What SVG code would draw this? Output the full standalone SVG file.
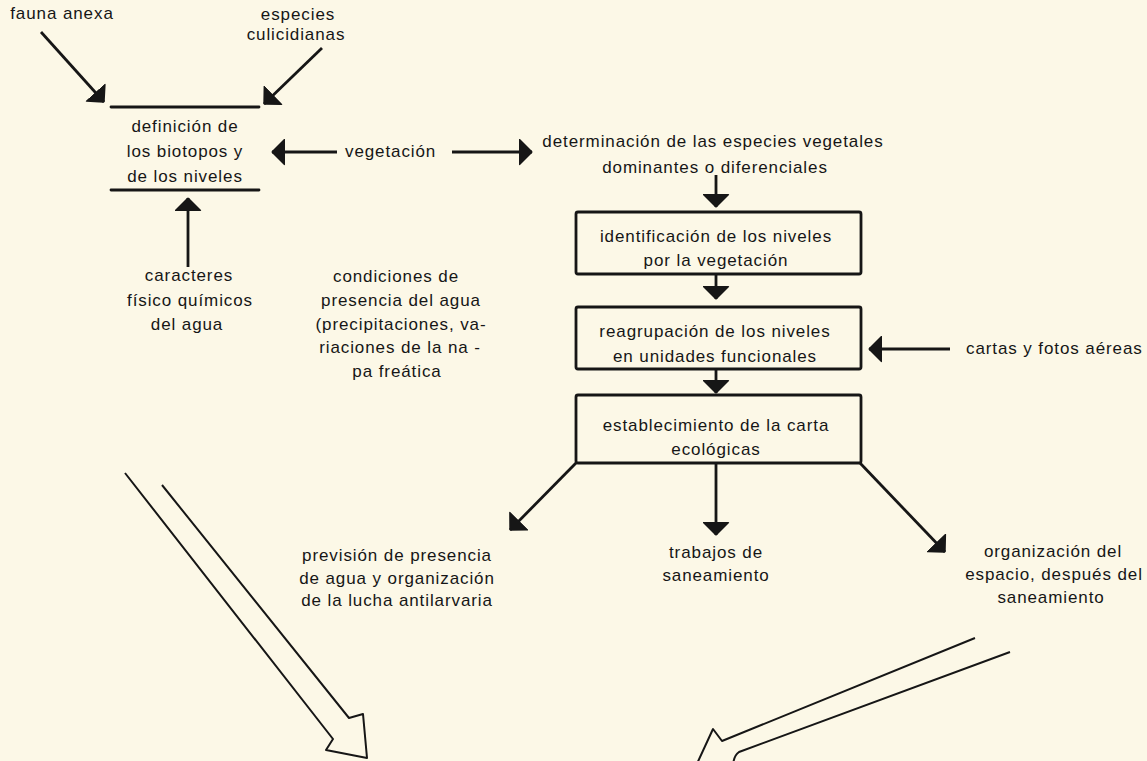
<svg xmlns="http://www.w3.org/2000/svg" width="1147" height="761" viewBox="0 0 1147 761">
<style>
  .t { font-family: "Liberation Sans", Arial, sans-serif; font-size: 17px; letter-spacing: 0.9px; fill: #161616; text-anchor: middle; }
  .ts { text-anchor: start; }
  .ln { stroke: #161616; stroke-width: 2.8; fill: none; stroke-linecap: round; }
  .box { stroke: #161616; stroke-width: 2.8; fill: none; }
  .ar { stroke: #161616; stroke-width: 2.8; fill: none; marker-end: url(#ah); }
  .hol { stroke: #161616; stroke-width: 2; fill: none; stroke-linejoin: round; }
</style>
<defs>
  <marker id="ah" markerUnits="userSpaceOnUse" markerWidth="14" markerHeight="27" refX="13" refY="13.5" orient="auto" viewBox="0 0 14 27">
    <path d="M0,1 Q0,0 1,0.5 L13,12.5 Q14,13.5 13,14.5 L1,26.5 Q0,27 0,26 Z" fill="#161616"/>
  </marker>
</defs>
<rect width="1147" height="761" fill="#fcf8e7"/>

<g id="fauna-anexa"><text class="t" x="62" y="19">fauna anexa</text></g>
<g id="especies-culicidianas">
  <text class="t" x="298" y="20">especies</text>
  <text class="t" x="296" y="40">culicidianas</text>
</g>
<g id="definicion-biotopos">
  <line class="ln" x1="111" y1="107" x2="259" y2="107"/>
  <text class="t" x="185" y="132">definición de</text>
  <text class="t" x="185" y="157">los biotopos y</text>
  <text class="t" x="185" y="182">de los niveles</text>
  <line class="ln" x1="111" y1="190" x2="259" y2="190"/>
</g>
<g id="vegetacion"><text class="t ts" x="345" y="157">vegetación</text></g>
<g id="determinacion">
  <text class="t" x="713" y="147">determinación de las especies vegetales</text>
  <text class="t" x="715" y="173">dominantes o diferenciales</text>
</g>
<g id="identificacion">
  <rect class="box" x="576" y="212" width="285" height="62" rx="2"/>
  <text class="t" x="716" y="242">identificación de los niveles</text>
  <text class="t" x="716" y="266">por la vegetación</text>
</g>
<g id="reagrupacion">
  <rect class="box" x="576" y="307" width="285" height="62" rx="2"/>
  <text class="t" x="715" y="337">reagrupación de los niveles</text>
  <text class="t" x="715" y="362">en unidades funcionales</text>
</g>
<g id="cartas-fotos"><text class="t ts" x="966" y="354">cartas y fotos aéreas</text></g>
<g id="establecimiento">
  <rect class="box" x="576" y="395" width="285" height="68" rx="2"/>
  <text class="t" x="716" y="431">establecimiento de la carta</text>
  <text class="t" x="716" y="455">ecológicas</text>
</g>
<g id="caracteres">
  <text class="t" x="189" y="281">caracteres</text>
  <text class="t" x="190" y="306">físico químicos</text>
  <text class="t" x="187" y="330">del agua</text>
</g>
<g id="condiciones">
  <text class="t" x="396" y="282">condiciones de</text>
  <text class="t" x="401" y="306">presencia del agua</text>
  <text class="t" x="401" y="330">(precipitaciones, va-</text>
  <text class="t" x="400" y="353">riaciones de la na -</text>
  <text class="t" x="397" y="377">pa freática</text>
</g>
<g id="prevision">
  <text class="t" x="397" y="561">previsión de presencia</text>
  <text class="t" x="397" y="584">de agua y organización</text>
  <text class="t" x="397" y="606">de la lucha antilarvaria</text>
</g>
<g id="trabajos">
  <text class="t" x="716" y="558">trabajos de</text>
  <text class="t" x="716" y="581">saneamiento</text>
</g>
<g id="organizacion">
  <text class="t" x="1053" y="557">organización del</text>
  <text class="t" x="1054" y="580">espacio, después del</text>
  <text class="t" x="1051" y="603">saneamiento</text>
</g>

<g id="connectors">
  <path class="ar" d="M41,32 L104,102"/>
  <path class="ar" d="M322,48 L264,104"/>
  <path class="ar" d="M337,152 L272,152"/>
  <path class="ar" d="M452,152 L532,152"/>
  <path class="ar" d="M188,267 L188,198"/>
  <path class="ar" d="M716,175 L716,207"/>
  <path class="ar" d="M716,274 L716,299"/>
  <path class="ar" d="M716,369 L716,393"/>
  <path class="ar" d="M950,349 L869,349"/>
  <path class="ar" d="M576,463 L510,530"/>
  <path class="ar" d="M716,463 L716,535"/>
  <path class="ar" d="M860,463 L945,552"/>
  <path class="hol" d="M125,473 L333,739 L326,750 L367,758 L363,714 L349,718 L162,485"/>
  <path class="hol" d="M975,638 L722,741 L713,729 L695,768"/>
  <path class="hol" d="M1010,652 L739,752 Q733,756 733,768"/>
</g>
</svg>
